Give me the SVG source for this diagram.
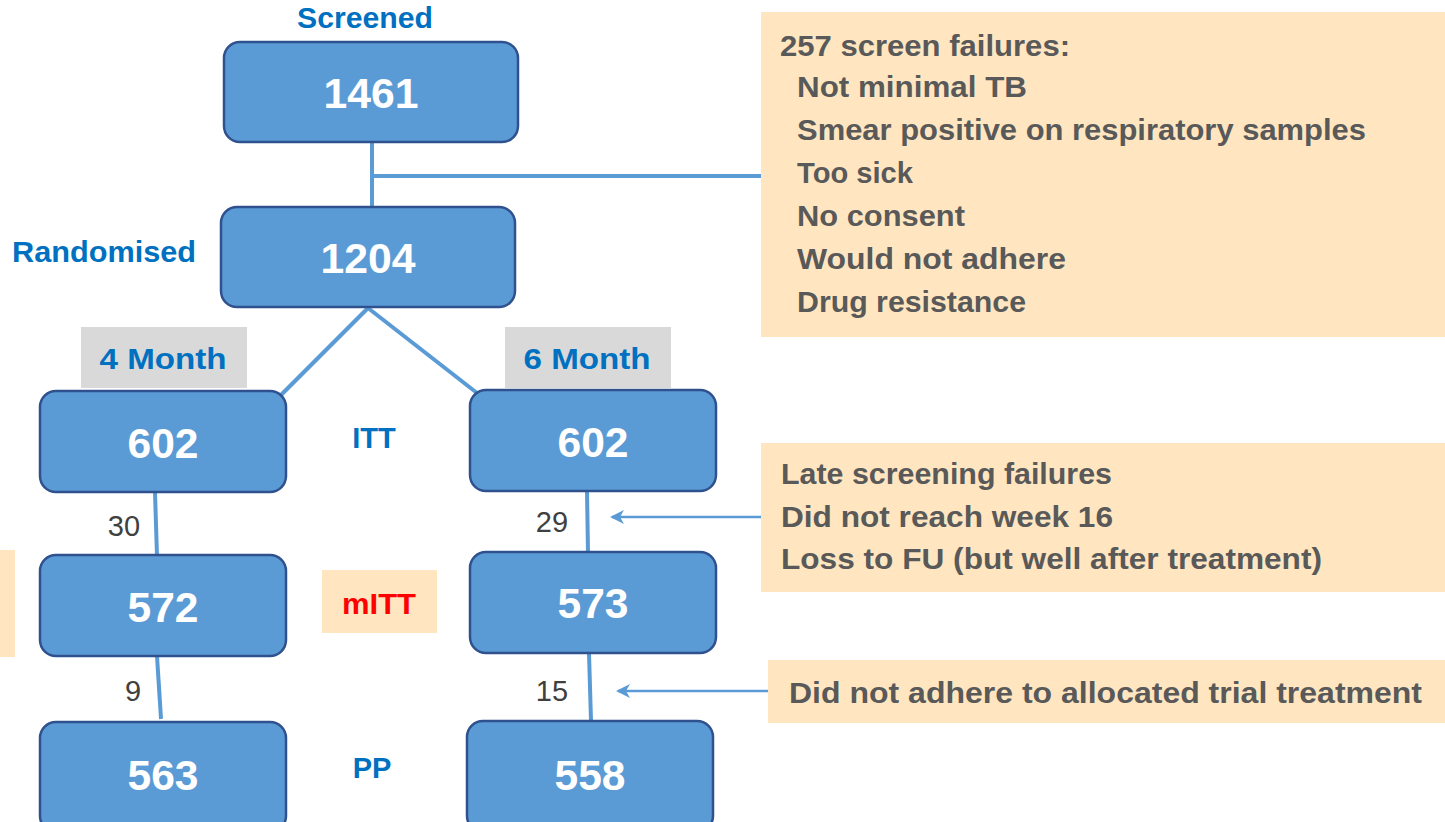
<svg xmlns="http://www.w3.org/2000/svg" width="1445" height="822" viewBox="0 0 1445 822">
<defs>
<style>
.box{fill:#5B9BD5;stroke:#2F528F;stroke-width:2.5}
.num{font-family:"Liberation Sans",Arial,sans-serif;font-weight:bold;font-size:42px;fill:#fff;text-anchor:middle}
.lbl{font-family:"Liberation Sans",Arial,sans-serif;font-weight:bold;font-size:29px;fill:#0070C0}
.cnt{font-family:"Liberation Sans",Arial,sans-serif;font-size:29px;fill:#404040;text-anchor:middle}
.note{font-family:"Liberation Sans",Arial,sans-serif;font-weight:bold;font-size:29px;fill:#595959}
.peach{fill:#FFE6C0}
.grey{fill:#D9D9D9}
.conn{stroke:#5B9BD5;stroke-width:4;fill:none}
.arr{stroke:#5B9BD5;stroke-width:2.5;fill:none}
</style>
<marker id="ah" markerWidth="14" markerHeight="14" refX="12" refY="7" orient="auto" markerUnits="userSpaceOnUse" viewBox="0 0 14 14">
<path d="M0,0 L14,7 L0,14 L4,7 Z" fill="#5B9BD5"/>
</marker>
</defs>
<rect width="1445" height="822" fill="#fff"/>

<g id="connectors">
<line class="conn" x1="372" y1="142" x2="372" y2="208"/>
<line class="conn" x1="372" y1="176" x2="762" y2="176"/>
<line class="conn" x1="368" y1="308" x2="281" y2="395"/>
<line class="conn" x1="368" y1="308" x2="477" y2="393"/>
<line class="conn" x1="155" y1="492" x2="157" y2="556"/>
<line class="conn" x1="157" y1="656" x2="161" y2="719"/>
<line class="conn" x1="587" y1="491" x2="588" y2="553"/>
<line class="conn" x1="589" y1="653" x2="591" y2="721"/>
<line class="arr" x1="761" y1="517" x2="612" y2="517" marker-end="url(#ah)"/>
<line class="arr" x1="768" y1="691" x2="618" y2="691" marker-end="url(#ah)"/>
</g>

<g id="screened-label"><text class="lbl" x="365" y="28" text-anchor="middle" textLength="136" lengthAdjust="spacingAndGlyphs">Screened</text></g>
<g id="n1461"><rect class="box" x="224" y="42" width="294" height="100" rx="16"/><text class="num" x="371" y="108" textLength="95" lengthAdjust="spacingAndGlyphs">1461</text></g>
<g id="randomised-label"><text class="lbl" x="12" y="262" textLength="184" lengthAdjust="spacingAndGlyphs">Randomised</text></g>
<g id="n1204"><rect class="box" x="221" y="207" width="294" height="100" rx="16"/><text class="num" x="368" y="273" textLength="95" lengthAdjust="spacingAndGlyphs">1204</text></g>

<g id="label4m"><rect class="grey" x="81" y="327" width="166" height="61"/><text class="lbl" x="163" y="369" text-anchor="middle" textLength="127" lengthAdjust="spacingAndGlyphs">4 Month</text></g>
<g id="label6m"><rect class="grey" x="505" y="327" width="166" height="61"/><text class="lbl" x="587" y="369" text-anchor="middle" textLength="127" lengthAdjust="spacingAndGlyphs">6 Month</text></g>

<g id="n602a"><rect class="box" x="40" y="391" width="246" height="101" rx="16"/><text class="num" x="163" y="458" textLength="71" lengthAdjust="spacingAndGlyphs">602</text></g>
<g id="itt-label"><text class="lbl" x="374" y="448" text-anchor="middle" font-size="28">ITT</text></g>
<g id="n602b"><rect class="box" x="470" y="390" width="246" height="101" rx="16"/><text class="num" x="593" y="457" textLength="71" lengthAdjust="spacingAndGlyphs">602</text></g>

<g id="cnt30"><text class="cnt" x="124" y="536">30</text></g>
<g id="cnt29"><text class="cnt" x="552" y="532">29</text></g>

<g id="left-peach"><rect class="peach" x="0" y="550" width="15" height="107"/></g>
<g id="n572"><rect class="box" x="40" y="555" width="246" height="101" rx="16"/><text class="num" x="163" y="622" textLength="71" lengthAdjust="spacingAndGlyphs">572</text></g>
<g id="mitt-label"><rect class="peach" x="322" y="570" width="115" height="63"/><text class="lbl" x="379" y="614" text-anchor="middle" style="fill:#FF0000" textLength="74" lengthAdjust="spacingAndGlyphs">mITT</text></g>
<g id="n573"><rect class="box" x="470" y="552" width="246" height="101" rx="16"/><text class="num" x="593" y="618" textLength="71" lengthAdjust="spacingAndGlyphs">573</text></g>

<g id="cnt9"><text class="cnt" x="133" y="701">9</text></g>
<g id="cnt15"><text class="cnt" x="552" y="701">15</text></g>

<g id="n563"><rect class="box" x="40" y="722" width="246" height="110" rx="16"/><text class="num" x="163" y="790" textLength="71" lengthAdjust="spacingAndGlyphs">563</text></g>
<g id="pp-label"><text class="lbl" x="372" y="778" text-anchor="middle" font-size="28">PP</text></g>
<g id="n558"><rect class="box" x="467" y="721" width="246" height="111" rx="16"/><text class="num" x="590" y="790" textLength="71" lengthAdjust="spacingAndGlyphs">558</text></g>

<g id="screen-failures">
<rect class="peach" x="761" y="12" width="684" height="325"/>
<text class="note" x="780" y="56" textLength="290" lengthAdjust="spacingAndGlyphs">257 screen failures:</text>
<text class="note" x="797" y="97" textLength="230" lengthAdjust="spacingAndGlyphs">Not minimal TB</text>
<text class="note" x="797" y="140" textLength="569" lengthAdjust="spacingAndGlyphs">Smear positive on respiratory samples</text>
<text class="note" x="797" y="183" textLength="116" lengthAdjust="spacingAndGlyphs">Too sick</text>
<text class="note" x="797" y="226" textLength="168" lengthAdjust="spacingAndGlyphs">No consent</text>
<text class="note" x="797" y="269" textLength="269" lengthAdjust="spacingAndGlyphs">Would not adhere</text>
<text class="note" x="797" y="312" textLength="229" lengthAdjust="spacingAndGlyphs">Drug resistance</text>
</g>

<g id="late-failures">
<rect class="peach" x="761" y="443" width="684" height="149"/>
<text class="note" x="781" y="484" textLength="331" lengthAdjust="spacingAndGlyphs">Late screening failures</text>
<text class="note" x="781" y="527" textLength="332" lengthAdjust="spacingAndGlyphs">Did not reach week 16</text>
<text class="note" x="781" y="569" textLength="541" lengthAdjust="spacingAndGlyphs">Loss to FU (but well after treatment)</text>
</g>

<g id="non-adherence">
<rect class="peach" x="768" y="660" width="677" height="63"/>
<text class="note" x="789" y="703" textLength="633" lengthAdjust="spacingAndGlyphs">Did not adhere to allocated trial treatment</text>
</g>
</svg>
